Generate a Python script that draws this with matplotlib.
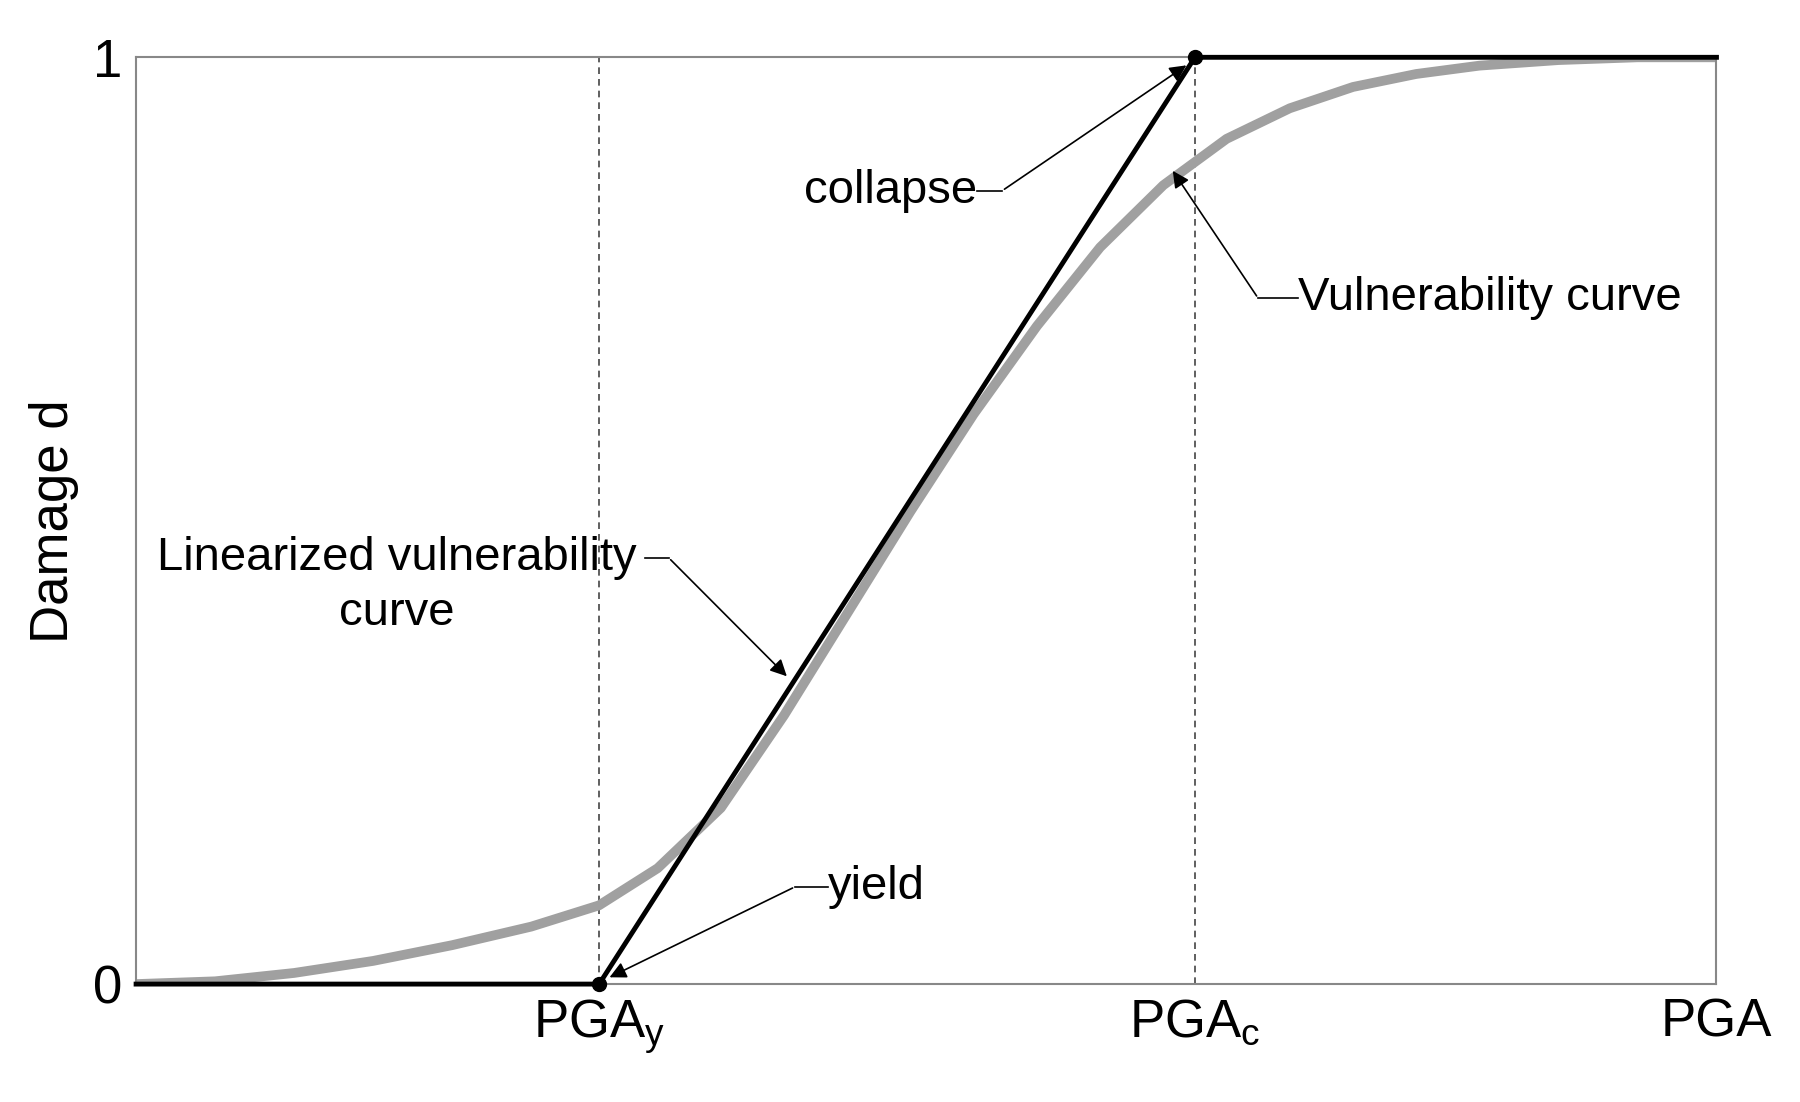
import matplotlib
matplotlib.use("Agg")
import matplotlib.pyplot as plt

plt.rcParams['font.family'] = ['Liberation Sans', 'DejaVu Sans']
plt.rcParams['mathtext.fontset'] = 'custom'
plt.rcParams['mathtext.rm'] = 'Liberation Sans'

# data (x normalized 0..1 along PGA axis)
pga_y = 0.293
pga_c = 0.670
lin_x = [0.0, pga_y, pga_c, 1.0]
lin_y = [0.0, 0.0, 1.0, 1.0]
vul_x = [0.0, 0.05, 0.10, 0.15, 0.20, 0.25, 0.293, 0.33, 0.37, 0.41, 0.45, 0.49, 0.53, 0.57, 0.61, 0.65, 0.69, 0.73, 0.77, 0.81, 0.85, 0.90, 0.95, 1.0]
vul_y = [0.0, 0.003, 0.012, 0.025, 0.042, 0.062, 0.085, 0.125, 0.19, 0.29, 0.40, 0.51, 0.615, 0.71, 0.795, 0.862, 0.912, 0.945, 0.968, 0.982, 0.991, 0.997, 1.0, 1.0]

fig = plt.figure(figsize=(18, 11.02), dpi=100)
ax = fig.add_axes([0.0756, 0.107, 0.878, 0.841])
ax.set_xlim(0, 1)
ax.set_ylim(0, 1)

ax.plot(vul_x, vul_y, color='#a0a0a0', lw=7, solid_capstyle='round', solid_joinstyle='round', zorder=2)
ax.plot(lin_x, lin_y, color='black', lw=3.5, zorder=3, clip_on=False)
ax.plot([pga_y, pga_c], [0, 1], 'o', color='black', ms=10, zorder=4, clip_on=False)
for xv in (pga_y, pga_c):
    ax.axvline(xv, color='#444444', lw=1.2, ls=(0, (4, 3)), zorder=1)

for s in ax.spines.values():
    s.set_color('#888888')
    s.set_linewidth(1.5)
ax.tick_params(length=0, labelsize=38, pad=10)
ax.set_yticks([0, 1])
ax.set_yticklabels(['0', '1'])
ax.set_xticks([pga_y, pga_c, 1.0])
ax.set_xticklabels([r'PGA$_\mathregular{y}$', r'PGA$_\mathregular{c}$', 'PGA'])
ax.set_ylabel('Damage d', fontsize=38, labelpad=10)

def leader(text_xy, knee_xy, tip_xy, label, ha, va='center'):
    ax.text(*text_xy, label, fontsize=34, ha=ha, va=va, zorder=5)
    ax.plot([text_xy[0], knee_xy[0]], [knee_xy[1], knee_xy[1]], color='black', lw=1.2)
    ax.annotate('', xy=tip_xy, xytext=knee_xy,
                arrowprops=dict(arrowstyle='-|>', color='black', lw=1.2, mutation_scale=25))

# collapse
leader((0.532, 0.856), (0.548, 0.856), (0.666, 0.993), 'collapse', 'right')
# vulnerability curve
leader((0.735, 0.740), (0.710, 0.740), (0.655, 0.880), 'Vulnerability curve', 'left')
# linearized
ax.text(0.165, 0.430, 'Linearized vulnerability\ncurve', fontsize=34, ha='center', va='center', linespacing=1.3, zorder=5)
ax.plot([0.322, 0.337], [0.460, 0.460], color='black', lw=1.2)
ax.annotate('', xy=(0.413, 0.330), xytext=(0.337, 0.460),
            arrowprops=dict(arrowstyle='-|>', color='black', lw=1.2, mutation_scale=25))
# yield
leader((0.438, 0.105), (0.417, 0.105), (0.298, 0.006), 'yield', 'left')

fig.savefig('out.png', dpi=100)
